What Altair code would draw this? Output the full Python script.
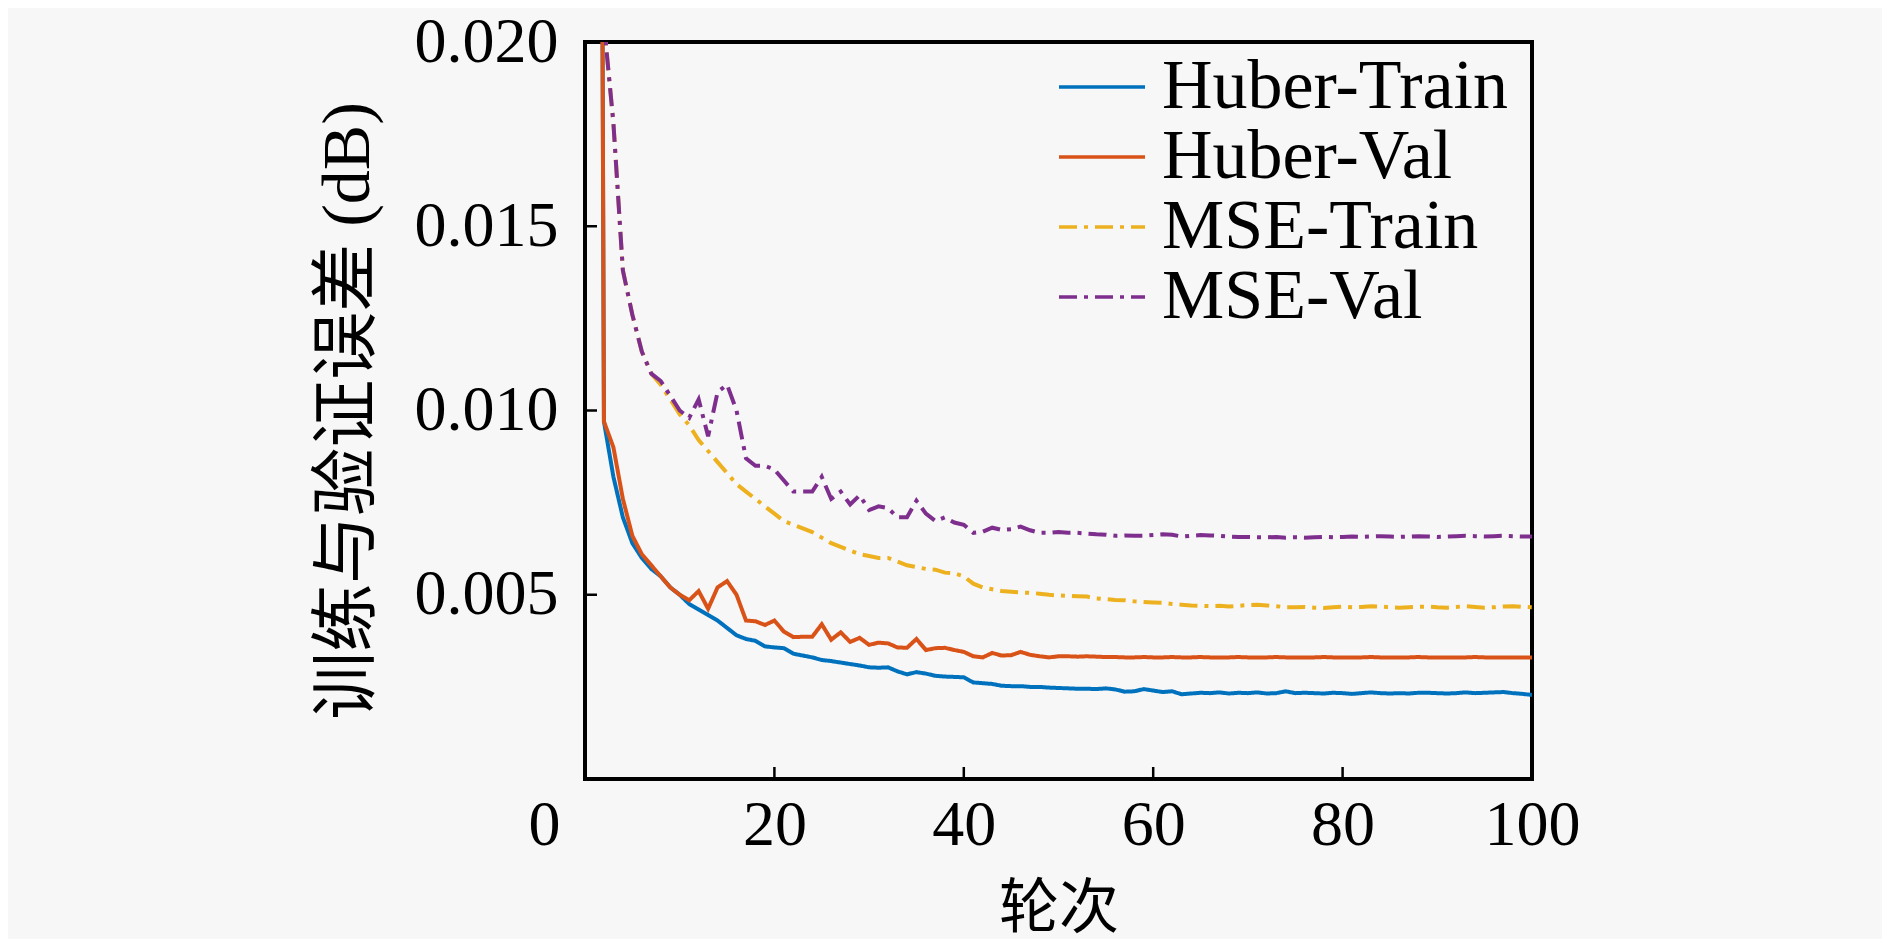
import pandas as pd
import altair as alt

# epochs 1..100 (epoch 1 is far above the axis top and gets clipped)
epochs = list(range(1, 101))

huber_train = [
    0.08, 0.0097, 0.0082, 0.0071, 0.0064, 0.0060, 0.0057, 0.0055, 0.0052, 0.0050,
    0.00475, 0.0046, 0.00445, 0.0043, 0.0041, 0.0039, 0.0038, 0.00375, 0.0036, 0.00357,
    0.00355, 0.0034, 0.00335, 0.0033, 0.00323, 0.0032, 0.00316, 0.00312, 0.00308, 0.00303,
    0.00302, 0.00303, 0.00292, 0.00284, 0.0029, 0.00286, 0.0028, 0.00278, 0.00277, 0.00276,
    0.00262, 0.0026, 0.00258, 0.00253, 0.00252, 0.00252, 0.0025, 0.0025, 0.00248, 0.00247,
    0.00246, 0.00245, 0.00245, 0.00244, 0.00246, 0.00243, 0.00237, 0.00238, 0.00244, 0.0024,
    0.00236, 0.00238, 0.0023, 0.00232, 0.00234, 0.00233, 0.00235, 0.00232, 0.00234, 0.00233,
    0.00235, 0.00232, 0.00233, 0.00238, 0.00233, 0.00234, 0.00233, 0.00232, 0.00234, 0.00233,
    0.00231, 0.00233, 0.00235, 0.00233, 0.00232, 0.00233, 0.00232, 0.00234, 0.00234, 0.00233,
    0.00232, 0.00233, 0.00235, 0.00233, 0.00234, 0.00235, 0.00236, 0.00233, 0.00231, 0.00228,
]

huber_val = [
    0.08, 0.0097, 0.0090, 0.0076, 0.0066, 0.0061, 0.0058, 0.0055, 0.0052, 0.0050,
    0.00485, 0.0051, 0.00462, 0.0052, 0.00537, 0.0050, 0.0043, 0.00428, 0.00418, 0.0043,
    0.0040, 0.00385, 0.00386, 0.00386, 0.0042, 0.00378, 0.00398, 0.00372, 0.00383, 0.00364,
    0.0037, 0.00368, 0.00357, 0.00356, 0.0038, 0.0035, 0.00355, 0.00356, 0.0035, 0.00345,
    0.00333, 0.0033, 0.00342, 0.00335, 0.00336, 0.00345, 0.00337, 0.00333, 0.0033, 0.00333,
    0.00333, 0.00332, 0.00333, 0.00332, 0.00331, 0.00331, 0.0033, 0.0033, 0.00331, 0.0033,
    0.0033, 0.00331, 0.0033, 0.0033, 0.00331, 0.0033, 0.0033, 0.0033, 0.00331, 0.0033,
    0.0033, 0.0033, 0.00331, 0.0033, 0.0033, 0.0033, 0.0033, 0.00331, 0.0033, 0.0033,
    0.0033, 0.0033, 0.00331, 0.0033, 0.0033, 0.0033, 0.0033, 0.00331, 0.0033, 0.0033,
    0.0033, 0.0033, 0.0033, 0.00331, 0.0033, 0.0033, 0.0033, 0.0033, 0.0033, 0.0033,
]

mse_train = [
    0.05, 0.0205, 0.0178, 0.0138, 0.0126, 0.0116, 0.0110, 0.0107, 0.0103, 0.0099,
    0.0096, 0.0092, 0.0089, 0.0086, 0.0083, 0.0080, 0.0078, 0.0076, 0.0074, 0.0072,
    0.0070, 0.0069, 0.0068, 0.0067, 0.00655, 0.0064, 0.0063, 0.0062, 0.0061, 0.00605,
    0.0060, 0.0060, 0.0059, 0.0058, 0.00575, 0.0057, 0.00568, 0.0056, 0.00558, 0.0055,
    0.0053, 0.0052, 0.00515, 0.0051, 0.00508, 0.00506, 0.00505, 0.00503, 0.0050, 0.00498,
    0.00497, 0.00496, 0.00495, 0.0049, 0.00488, 0.00486, 0.00485, 0.00482, 0.0048, 0.00479,
    0.00478, 0.00475, 0.00473, 0.00471, 0.0047, 0.00469, 0.0047, 0.00468, 0.0047, 0.00472,
    0.00473, 0.00471, 0.00469, 0.00466, 0.00466, 0.00467, 0.00465, 0.00464, 0.00466, 0.00468,
    0.00466, 0.00467, 0.00469, 0.00468, 0.00466, 0.00465, 0.00466, 0.00467, 0.00468, 0.00466,
    0.00465, 0.00467, 0.00469, 0.00467, 0.00465, 0.00466, 0.00468, 0.00469, 0.00467, 0.00466,
]

mse_val = [
    0.05, 0.0205, 0.0178, 0.0138, 0.0126, 0.0116, 0.0110, 0.0108, 0.0104, 0.0100,
    0.0098, 0.0103, 0.0093, 0.0105, 0.0107, 0.0100, 0.0087, 0.0085, 0.0085, 0.0084,
    0.0081, 0.0078, 0.0078, 0.0078, 0.0082, 0.0076, 0.0078, 0.00745, 0.0077, 0.0073,
    0.0074, 0.00735, 0.0071, 0.0071, 0.00755, 0.0072, 0.0070, 0.0071, 0.00696, 0.0069,
    0.00668, 0.00671, 0.00682, 0.00676, 0.00678, 0.00685, 0.00675, 0.00668, 0.00668, 0.0067,
    0.00668, 0.00668, 0.00666, 0.00664, 0.00663, 0.0066, 0.00661, 0.0066, 0.0066, 0.00662,
    0.00664, 0.00663, 0.00658, 0.0066, 0.00662, 0.00661, 0.0066, 0.00658, 0.00657, 0.00657,
    0.00656, 0.00656, 0.00657, 0.00655, 0.00656, 0.00655, 0.00656, 0.00657, 0.00656, 0.00657,
    0.00658, 0.00657, 0.00658, 0.00659, 0.00658, 0.00657, 0.00658, 0.00659, 0.00658, 0.00657,
    0.00658, 0.00659, 0.0066, 0.00659, 0.00658, 0.00659, 0.0066, 0.00659, 0.00658, 0.00658,
]

series_names = ['Huber-Train', 'Huber-Val', 'MSE-Train', 'MSE-Val']
series_colors = ['#0072BD', '#D95319', '#EDB120', '#7E2F8E']
series_dash = [[1, 0], [1, 0], [18, 7, 4, 7], [18, 7, 4, 7]]

x_ticks = [0, 20, 40, 60, 80, 100]
y_ticks = [0.005, 0.010, 0.015, 0.020]

W, H = 947, 737
serif = 'Liberation Serif, Noto Sans CJK SC'

df = pd.DataFrame({
    'epoch': epochs * 4,
    'loss': huber_train + huber_val + mse_train + mse_val,
    'series': sum([[n] * len(epochs) for n in series_names], []),
})

xs = alt.Scale(domain=[0, 100], nice=False)
ys = alt.Scale(domain=[0, 0.02], nice=False, zero=False)

x_axis = alt.Axis(values=x_ticks, domain=False, ticks=False, grid=False, labelFlush=False,
                  labelPadding=14, labelFontSize=64, labelFont=serif,
                  labelOffset={"condition": {"test": "datum.value === 0", "value": -41}, "value": 0},
                  titleFontSize=60, titleFont=serif, titleFontWeight='normal',
                  titlePadding=23, labelColor='black', titleColor='black')
y_axis = alt.Axis(values=y_ticks, format='.3f', domain=False, ticks=False, grid=False, labelFlush=False,
                  labelPadding=27, labelFontSize=64, labelFont=serif,
                  titleFontSize=68, titleFont=serif, titleFontWeight='normal',
                  titlePadding=32, labelColor='black', titleColor='black')
x_title = '轮次'
y_title = '训练与验证误差 (dB)'

lines = alt.Chart(df).mark_line(clip=True, strokeWidth=4).encode(
    x=alt.X('epoch:Q', scale=xs, title=x_title, axis=x_axis),
    y=alt.Y('loss:Q', scale=ys, title=y_title, axis=y_axis),
    color=alt.Color('series:N', scale=alt.Scale(domain=series_names, range=series_colors),
                    title=None,
                    legend=alt.Legend(orient='none', legendX=472, legendY=14,
                                      symbolType='M-1,0L1,0', symbolSize=86 * 86,
                                      symbolStrokeWidth=3.5, labelFontSize=70,
                                      labelFont=serif, labelOffset=15, rowPadding=0,
                                      clipHeight=62,
                                      labelColor='black', labelLimit=600)),
    strokeDash=alt.StrokeDash('series:N', scale=alt.Scale(domain=series_names, range=series_dash),
                              title=None, legend=None),
    detail='series:N',
)

ytick_df = pd.DataFrame({'loss': y_ticks})
xtick_df = pd.DataFrame({'epoch': x_ticks[1:-1]})

yticks = alt.Chart(ytick_df).mark_rule(color='black', strokeWidth=2.5).encode(
    y=alt.Y('loss:Q', scale=ys, title=y_title, axis=y_axis),
    x=alt.value(0), x2=alt.value(12),
)
xticks = alt.Chart(xtick_df).mark_rule(color='black', strokeWidth=2.5).encode(
    x=alt.X('epoch:Q', scale=xs, title=x_title, axis=x_axis),
    y=alt.value(H), y2=alt.value(H - 12),
)

chart = alt.layer(lines, yticks, xticks).properties(
    width=W, height=H,
    autosize=alt.AutoSizeParams(type='none'),
    padding={'left': 577, 'top': 34, 'right': 350, 'bottom': 160},
).configure(
    background='#f7f7f7',
).configure_view(
    stroke='black', strokeWidth=4, fill='#f7f7f7',
)

chart.save("out.html", embed_options={"renderer": "svg", "actions": False})
